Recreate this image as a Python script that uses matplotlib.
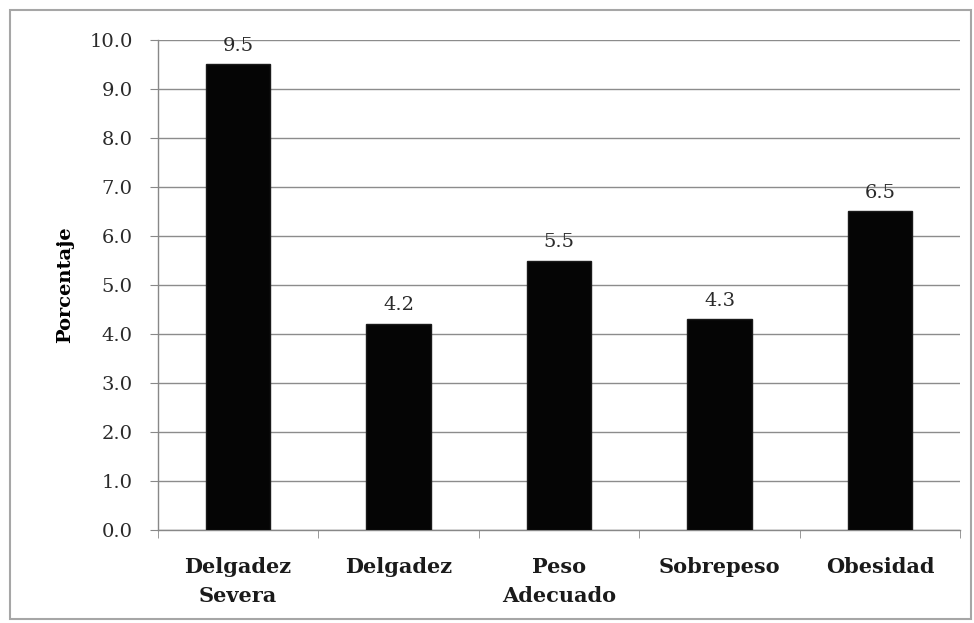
import matplotlib.pyplot as plt
from matplotlib.patches import Rectangle

categorias = ['Delgadez\nSevera', 'Delgadez', 'Peso\nAdecuado', 'Sobrepeso', 'Obesidad']
porcentajes = [9.5, 4.2, 5.5, 4.3, 6.5]
ticks_y = [0.0, 1.0, 2.0, 3.0, 4.0, 5.0, 6.0, 7.0, 8.0, 9.0, 10.0]

plt.rcParams['font.family'] = ['DejaVu Serif']

fig = plt.figure(figsize=(9.74, 6.23), dpi=100)
ax = fig.add_axes([0.162, 0.149, 0.824, 0.787])

# marco gris alrededor del grafico
fig.patches.append(Rectangle((0.010, 0.006), 0.987, 0.978, transform=fig.transFigure,
                             fill=False, edgecolor='#a6a6a6', linewidth=1.5))

x = range(len(categorias))
ax.bar(x, porcentajes, width=0.4, color='#050505', edgecolor='#1a1a1a', zorder=3)

for xi, v in zip(x, porcentajes):
    ax.text(xi, v + 0.2, f'{v:.1f}', ha='center', va='bottom', fontsize=14, color='#2a2a2a')

ax.set_xlim(-0.5, len(categorias) - 0.5)
ax.set_ylim(0, 10)
ax.set_yticks(ticks_y)
ax.set_yticklabels([f'{t:.1f}' for t in ticks_y], fontsize=14, color='#2a2a2a')
ax.set_xticks(list(x))
ax.set_xticklabels(categorias, fontsize=15, fontweight='bold', color='#1a1a1a',
                   linespacing=1.6)
ax.set_xticks([i - 0.5 for i in range(len(categorias) + 1)], minor=True)
ax.tick_params(axis='x', which='major', length=0, pad=19)
ax.tick_params(axis='x', which='minor', length=6, color='#888888', direction='out')
ax.tick_params(axis='y', length=6, color='#888888', direction='out', pad=12)

ax.grid(axis='y', color='#8c8c8c', linewidth=1.0, zorder=0)
ax.set_axisbelow(True)
for s in ['top', 'right']:
    ax.spines[s].set_visible(False)
for s in ['left', 'bottom']:
    ax.spines[s].set_color('#888888')
    ax.spines[s].set_linewidth(1.0)

ax.set_ylabel('Porcentaje', fontsize=14, fontweight='bold', labelpad=11)

fig.savefig('out.png', dpi=100)
